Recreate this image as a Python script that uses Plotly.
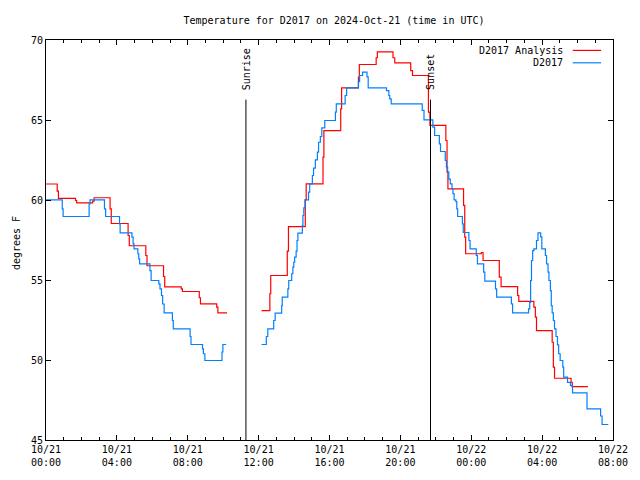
import plotly.graph_objects as go
import pandas as pd

START = pd.Timestamp("2024-10-21 00:00")
TITLE = "Temperature for D2017 on 2024-Oct-21 (time in UTC)"
Y_LABEL = "degrees F"
SUNRISE = "2024-10-21 11:17"
SUNSET = "2024-10-21 21:42"

# D2017 Analysis (minutes after 2024-10-21 00:00 UTC, degrees F); None = gap
red_minutes = [0, 38, 42, 100, 104, 158, 163, 217, 221, 278, 282, 338, 342, 398, 402,
               458, 462, 519, 523, 578, 582, 613, 670,
               730, 758, 761, 817, 821, 878, 881, 938, 941, 998, 1001, 1058, 1061,
               1118, 1122, 1175, 1181, 1235, 1241, 1295, 1300, 1354, 1358, 1361,
               1414, 1418, 1421, 1474, 1480, 1535, 1541, 1597, 1601, 1652, 1657, 1661,
               1714, 1718, 1722, 1778, 1782, 1835]
red_values = [61.0, 60.55, 60.1, 59.97, 59.82, 59.93, 60.14, 59.45, 58.53, 57.78, 57.14,
              56.53, 55.89, 55.22, 54.57, 54.45, 54.28, 53.89, 53.51, 53.3, 52.95, 52.95, None,
              53.09, 54.14, 55.28, 56.8, 58.34, 60.01, 61.01, 62.68, 64.34, 65.7, 67.01,
              67.68, 68.47, 68.89, 69.26, 68.89, 68.57, 68.09, 67.78, 65.49, 64.66,
              63.72, 61.74, 60.7, 59.66, 57.68, 56.64, 56.72, 56.22, 55.18, 54.59,
              54.03, 53.66, 53.3, 52.68, 51.84, 51.11, 49.55, 48.86, 48.61, 48.34, 48.34]

# D2017 observations
blue_minutes = [0, 55, 58, 146, 149, 198, 202, 249, 251, 291, 295, 298, 311, 314, 317,
                352, 356, 382, 386, 391, 395, 400, 428, 431, 488, 491, 530, 533, 538,
                596, 599, 610, 670,
                730, 746, 751, 771, 776, 798, 800, 819, 822, 832, 836, 839, 842, 847,
                850, 853, 868, 870, 873, 877, 889, 893, 902, 906, 912, 919, 923, 929,
                934, 944, 980, 983, 1013, 1018, 1058, 1062, 1072, 1087, 1091, 1153,
                1161, 1164, 1169, 1274, 1280, 1310, 1316, 1332, 1336, 1352, 1356, 1360,
                1364, 1369, 1375, 1378, 1382, 1388, 1391, 1394, 1410, 1413, 1432, 1436,
                1457, 1461, 1482, 1486, 1522, 1526, 1576, 1580, 1634, 1638, 1641, 1644,
                1648, 1652, 1661, 1666, 1675, 1679, 1691, 1695, 1700, 1703, 1708, 1711,
                1714, 1718, 1722, 1727, 1732, 1736, 1741, 1750, 1753, 1766, 1776, 1783,
                1832, 1878, 1883, 1904]
blue_values = [60.01, 59.45, 58.97, 59.76, 60.01, 59.45, 58.97, 58.51, 57.95, 57.68, 57.26,
               56.95, 56.64, 56.32, 56.01, 55.59, 54.97, 54.76, 54.45, 54.03, 53.5, 52.95,
               52.47, 51.95, 51.47, 50.97, 50.7, 50.39, 49.97, 50.5, 50.97, 50.97, None,
               50.97, 51.47, 51.95, 52.47, 52.93, 53.4, 53.93, 54.45, 54.97, 55.39, 55.8,
               56.11, 56.43, 56.8, 57.47, 57.93, 58.41, 59.03, 59.51, 60.01, 60.49, 61.01,
               61.53, 61.99, 62.51, 62.99, 63.61, 63.97, 64.51, 64.97, 65.49, 66.01,
               66.53, 67.01, 67.4, 67.78, 67.99, 67.7, 67.01, 66.84, 66.53, 66.32, 66.01,
               65.6, 65.01, 64.55, 64.03, 63.51, 63.03, 62.47, 62.05, 61.74, 61.3, 61.01,
               60.7, 60.4, 60.01, 59.9, 59.45, 58.97, 58.51, 57.97, 57.47, 56.95, 56.53,
               56.01, 55.49, 54.93, 54.45, 53.93, 53.51, 52.95, 53.2, 53.6, 54.97, 56.22,
               56.84, 56.95, 57.47, 57.95, 57.7, 56.95, 56.53, 56.01, 55.49, 54.97, 54.34,
               53.4, 52.95, 52.47, 51.95, 51.47, 50.95, 50.39, 49.97, 49.55, 48.93, 48.6,
               48.4, 47.95, 46.95, 46.5, 45.97, 45.97]

Y_TICKS = [45, 50, 55, 60, 65, 70]
X_RANGE = ["2024-10-21 00:00", "2024-10-22 08:00"]


def to_time(mins):
    return [START + pd.Timedelta(minutes=m) for m in mins]


FONT = dict(family="DejaVu Sans Mono", size=10, color="black")
RED = "#ff0000"
BLUE = "#0080ff"

# page body has an 8px margin: figure is 632x472 so the page is exactly 640x480
FIG_W, FIG_H = 632, 472

fig = go.Figure()
fig.add_trace(go.Scatter(x=to_time(red_minutes), y=red_values, mode="lines",
                         name="D2017 Analysis", connectgaps=False,
                         line=dict(color=RED, width=1.2, shape="hv")))
fig.add_trace(go.Scatter(x=to_time(blue_minutes), y=blue_values, mode="lines",
                         name="D2017", connectgaps=False,
                         line=dict(color=BLUE, width=1.2, shape="hv")))

# Sunrise / sunset markers
for t, label in [(SUNRISE, "Sunrise"), (SUNSET, "Sunset")]:
    fig.add_shape(type="line", xref="x", yref="paper", x0=t, x1=t, y0=0, y1=0.851,
                  line=dict(color="black", width=1))
    fig.add_annotation(x=t, xref="x", y=0.869, yref="paper", text=label, textangle=-90,
                       showarrow=False, xanchor="center", yanchor="bottom", font=FONT)

# gnuplot-style key: text then line sample
for i, (name, col) in enumerate([("D2017 Analysis", RED), ("D2017", BLUE)]):
    yk = 0.974 - i * 0.031
    fig.add_annotation(x=0.915, xref="paper", y=yk, yref="paper", text=name,
                       showarrow=False, xanchor="right", yanchor="middle", font=FONT)
    fig.add_shape(type="line", xref="paper", yref="paper", x0=0.929, x1=0.979,
                  y0=yk, y1=yk, line=dict(color=col, width=1.2))

fig.add_annotation(x=-38 / 576, xref="paper", y=0.4925, yref="paper", text=Y_LABEL,
                   textangle=-90, showarrow=False, xanchor="left", yanchor="middle",
                   font=FONT)

fig.update_layout(
    width=FIG_W, height=FIG_H,
    margin=dict(l=38, r=18, t=32, b=40),
    paper_bgcolor="white", plot_bgcolor="white",
    font=FONT,
    showlegend=False,
    title=dict(text=TITLE, x=(38 + 38 + 576) / 2 / FIG_W, xanchor="center",
               y=1 - 12 / FIG_H, yanchor="middle", yref="container", font=FONT),
    xaxis=dict(type="date", range=X_RANGE, tick0="2024-10-21", dtick=4 * 3600000,
               tickformat="%m/%d<br>%H:%M", ticks="inside", ticklen=5, tickcolor="black",
               showline=True, linecolor="black", linewidth=1, mirror="allticks",
               showgrid=False, zeroline=False,
               minor=dict(dtick=3600000, ticks="inside", ticklen=3, tickcolor="black",
                          showgrid=False)),
    yaxis=dict(range=[45, 70], tickvals=Y_TICKS, ticks="inside", ticklen=5,
               tickcolor="black", showline=True, linecolor="black", linewidth=1,
               mirror="allticks", showgrid=False, zeroline=False),
)

fig.write_html("out.html")
